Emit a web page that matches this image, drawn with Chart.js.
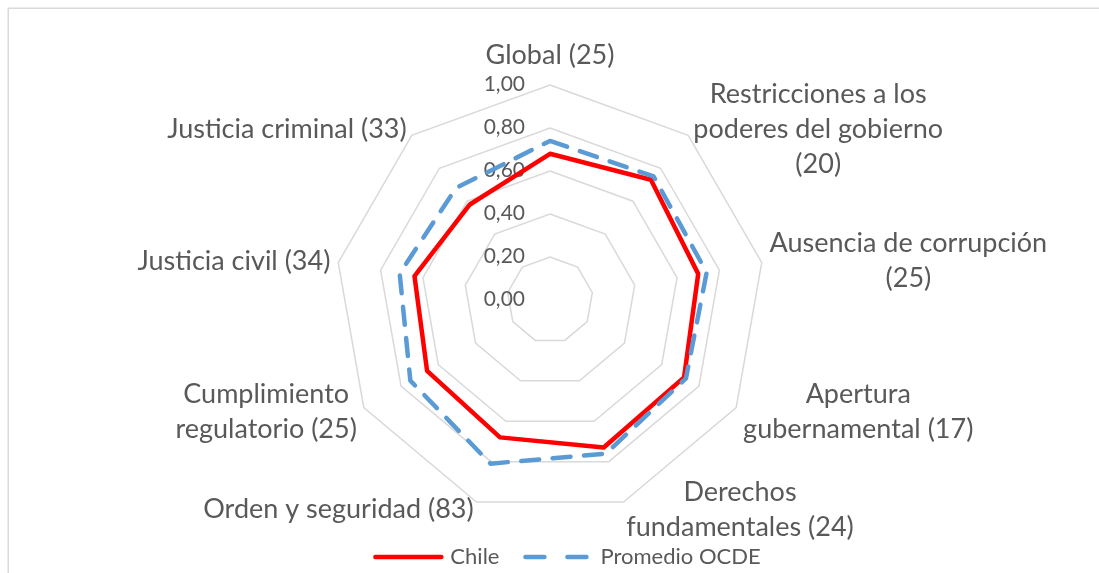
<!DOCTYPE html>
<html lang="es">
<head>
<meta charset="UTF-8">
<meta name="viewport" content="width=device-width, initial-scale=1.0">
<title>Estado de derecho: Chile y promedio OCDE</title>
<script src="https://cdn.jsdelivr.net/npm/chart.js"></script>
<style>
    body {
        margin: 0;
        background: #fff;
    }
    .chart-box {
        position: relative;
        width: 1099px;
        height: 573px;
    }
</style>
</head>
<body>
<div class="chart-box">
    <canvas id="radarChart"></canvas>
</div>
<script>
// categories (rank in parentheses), already wrapped the way the original shows them
const categories = [
    ['Global (25)'],
    ['Restricciones a los', 'poderes del gobierno', '(20)'],
    ['Ausencia de corrupción', '(25)'],
    ['Apertura', 'gubernamental (17)'],
    ['Derechos', 'fundamentales (24)'],
    ['Orden y seguridad (83)'],
    ['Cumplimiento', 'regulatorio (25)'],
    ['Justicia civil (34)'],
    ['Justicia criminal (33)']
];
const seriesNames = ['Chile', 'Promedio OCDE'];
const chileValues = [0.68, 0.73, 0.70, 0.72, 0.73, 0.68, 0.66, 0.64, 0.58];
const ocdeValues = [0.74, 0.75, 0.74, 0.73, 0.76, 0.81, 0.75, 0.71, 0.68];
const tickValues = [0, 0.2, 0.4, 0.6, 0.8, 1.0];

const textColor = '#595959';
const fontFamily = 'Lato, "Open Sans", sans-serif';

const excelLook = {
    id: 'excelLook',
    beforeDraw(chart) {
        const ctx = chart.ctx;
        ctx.save();
        ctx.strokeStyle = '#d9d9d9';
        ctx.lineWidth = 1.5;
        ctx.strokeRect(8.25, 8.25, 1300, 800);
        ctx.restore();
    },
    beforeDatasetsDraw(chart) {
        // value labels sit left of the vertical axis, under the lines
        const r = chart.scales.r;
        const ctx = chart.ctx;
        ctx.save();
        ctx.font = '21px ' + fontFamily;
        ctx.fillStyle = textColor;
        ctx.textAlign = 'right';
        ctx.textBaseline = 'middle';
        r.ticks.forEach(t => {
            const d = r.getDistanceFromCenterForValue(t.value);
            ctx.fillText(t.label, r.xCenter - 25, r.yCenter - d - 1);
        });
        ctx.restore();
    },
    afterDatasetsDraw(chart) {
        const r = chart.scales.r;
        const ctx = chart.ctx;
        ctx.save();

        // point labels: block hugs the outer ring, text centred inside it
        const lineH = 35;
        ctx.font = '27px ' + fontFamily;
        ctx.fillStyle = textColor;
        ctx.textAlign = 'center';
        ctx.textBaseline = 'middle';
        chart.data.labels.forEach((lines, i) => {
            const p = r.getPointPosition(i, r.drawingArea + 8);
            const ang = p.angle + Math.PI / 2;
            const s = Math.sin(ang), c = Math.cos(ang);
            const w = Math.max(...lines.map(l => ctx.measureText(l).width));
            const h = lines.length * lineH;
            let cx = p.x, cy = p.y;
            if (Math.abs(s) < 0.05) {
                cy = c > 0 ? p.y - h / 2 - 4 : p.y + h / 2 + 4;
            } else if (s > 0) {
                cx = p.x + w / 2;
            } else {
                cx = p.x - w / 2;
            }
            lines.forEach((t, k) => ctx.fillText(t, cx, cy - h / 2 + lineH * (k + 0.5)));
        });

        // legend, centred on the chart frame
        ctx.font = '22px ' + fontFamily;
        ctx.textAlign = 'left';
        const items = chart.data.datasets.map(ds => ({
            text: ds.label,
            color: ds.borderColor,
            dashed: !!(ds.borderDash && ds.borderDash.length)
        }));
        const widths = items.map(it => 77 + ctx.measureText(it.text).width);
        const total = widths.reduce((a, b) => a + b, 0) + 24 * (items.length - 1);
        let x = 567 - total / 2;
        const y = 557;
        items.forEach((it, k) => {
            ctx.strokeStyle = it.color;
            ctx.lineWidth = 4.5;
            ctx.lineCap = 'round';
            ctx.setLineDash(it.dashed ? [19, 23] : []);
            ctx.beginPath();
            ctx.moveTo(x + 2, y);
            ctx.lineTo(x + 68, y);
            ctx.stroke();
            ctx.setLineDash([]);
            ctx.fillStyle = textColor;
            ctx.fillText(it.text, x + 77, y);
            x += widths[k] + 24;
        });
        ctx.restore();
    }
};

const ctx = document.getElementById('radarChart').getContext('2d');
new Chart(ctx, {
    type: 'radar',
    data: {
        labels: categories,
        datasets: [{
            label: seriesNames[0],
            data: chileValues,
            borderColor: '#ff0000',
            borderWidth: 4.5,
            borderJoinStyle: 'round',
            borderCapStyle: 'round',
            fill: false,
            pointRadius: 0,
            pointHoverRadius: 0,
            order: 1
        }, {
            label: seriesNames[1],
            data: ocdeValues,
            borderColor: '#5b9bd5',
            borderWidth: 4.5,
            borderDash: [18, 13.5],
            borderJoinStyle: 'round',
            borderCapStyle: 'round',
            fill: false,
            pointRadius: 0,
            pointHoverRadius: 0,
            order: 0
        }]
    },
    options: {
        responsive: true,
        maintainAspectRatio: false,
        animation: false,
        layout: {
            padding: { top: 85, bottom: 58, left: 2, right: 0 }
        },
        plugins: {
            legend: { display: false },
            tooltip: { enabled: false }
        },
        scales: {
            r: {
                min: 0,
                max: 1,
                afterBuildTicks: scale => {
                    scale.ticks = tickValues.map(v => ({ value: v }));
                },
                ticks: {
                    display: false,
                    callback: v => v.toFixed(2).replace('.', ',')
                },
                pointLabels: { display: false },
                angleLines: { display: false },
                grid: {
                    color: '#d9d9d9',
                    lineWidth: 1.5
                }
            }
        }
    },
    plugins: [excelLook]
});
</script>
</body>
</html>
